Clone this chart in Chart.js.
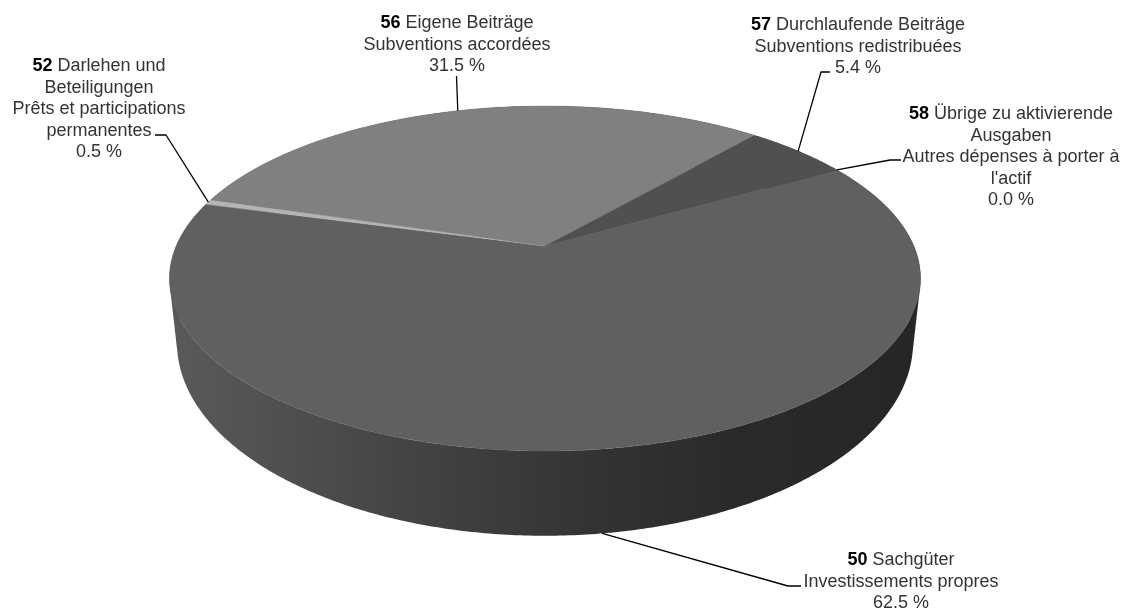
<!DOCTYPE html>
<html>
<head>
<meta charset="utf-8">
<style>
  html, body { margin: 0; padding: 0; background: #fff; }
  canvas { display: block; }
</style>
<script src="https://cdn.jsdelivr.net/npm/chart.js@4/dist/chart.umd.min.js"></script>
</head>
<body>
<canvas id="pieChart" width="1125" height="612"></canvas>
<script>
// Chart values
const codes = ['50', '52', '56', '57', '58'];
const categories = ['Sachgüter', 'Darlehen und Beteiligungen', 'Eigene Beiträge', 'Durchlaufende Beiträge', 'Übrige zu aktivierende Ausgaben'];
const shares = [62.5, 0.5, 31.5, 5.4, 0.0];
const percentLabels = ['62.5 %', '0.5 %', '31.5 %', '5.4 %', '0.0 %'];
// first line goes after the bold code
const labelLines = [
    ['Sachgüter', 'Investissements propres'],
    ['Darlehen und', 'Beteiligungen', 'Prêts et participations', 'permanentes'],
    ['Eigene Beiträge', 'Subventions accordées'],
    ['Durchlaufende Beiträge', 'Subventions redistribuées'],
    ['Übrige zu aktivierende', 'Ausgaben', 'Autres dépenses à porter à', "l'actif"]
];
const sliceColors = ['#606060', '#b4b4b4', '#808080', '#505050', '#707070'];

// Layout of the labels and leader lines, in the same order
const labelX = [901, 99, 457, 858, 1011];
const labelY = [565, 71, 28, 30, 119];
const lineHeight = 21.6;
const elbows = [
    [[788, 586], [801, 586]],
    [[166, 135], [155, 135]],
    [[456.5, 76]],
    [[821, 72], [830, 72]],
    [[890, 160], [901, 160]]
];

// Tilted disc: perspective projection of the unit circle
const top3d = { ax: 545, ay: 246, rx: 368.8, ry: 166.4 };
const bottom3d = { ax: 545, ay: 306.6, rx: 361.4, ry: 186 };
const tilt = 0.1884;

function project(disc, angle) {
    const u = Math.cos(angle), v = Math.sin(angle);
    const w = 1 - tilt * v;
    return [disc.ax + disc.rx * u / w, disc.ay + disc.ry * v / w];
}

function rimPath(ctx, disc, from, to) {
    const steps = Math.max(1, Math.ceil(Math.abs(to - from) / 0.01));
    for (let i = 0; i <= steps; i++) {
        const p = project(disc, from + (to - from) * i / steps);
        ctx.lineTo(p[0], p[1]);
    }
}

function drawLabel(ctx, index) {
    const font = '18px "Liberation Sans", Arial, sans-serif';
    const boldFont = 'bold 18px "Liberation Sans", Arial, sans-serif';
    const lines = labelLines[index].concat(percentLabels[index]);
    ctx.textBaseline = 'alphabetic';
    ctx.textAlign = 'left';
    ctx.fillStyle = '#333';
    lines.forEach(function (line, i) {
        const y = labelY[index] + i * lineHeight;
        ctx.font = font;
        const width = ctx.measureText(line).width;
        if (i === 0) {
            ctx.font = boldFont;
            const code = codes[index] + ' ';
            const codeWidth = ctx.measureText(code).width;
            const x = labelX[index] - (width + codeWidth) / 2;
            ctx.fillStyle = '#000';
            ctx.fillText(code, x, y);
            ctx.font = font;
            ctx.fillStyle = '#333';
            ctx.fillText(line, x + codeWidth, y);
        } else {
            ctx.fillText(line, labelX[index] - width / 2, y);
        }
    });
}

// adds one quad to the path, always wound the same way so overlaps do not cancel
function addQuad(ctx, q) {
    let area = 0;
    for (let i = 0; i < 4; i++) {
        const n = q[(i + 1) % 4];
        area += q[i][0] * n[1] - n[0] * q[i][1];
    }
    const pts = area < 0 ? q.slice().reverse() : q;
    ctx.moveTo(pts[0][0], pts[0][1]);
    for (let i = 1; i < 4; i++) ctx.lineTo(pts[i][0], pts[i][1]);
    ctx.closePath();
}

const tiltedPie = {
    id: 'tiltedPie',
    beforeDatasetDraw(chart) {
        const ctx = chart.ctx;
        const arcs = chart.getDatasetMeta(0).data;
        ctx.save();

        // Side wall first, the top faces cover the back part
        const wall = ctx.createLinearGradient(169, 0, 920, 0);
        wall.addColorStop(0, '#5a5a5a');
        wall.addColorStop(0.3, '#454545');
        wall.addColorStop(0.55, '#343434');
        wall.addColorStop(0.75, '#2a2a2a');
        wall.addColorStop(1, '#262626');
        ctx.fillStyle = wall;
        arcs.forEach(function (arc) {
            // one path for the whole strip, otherwise the quads leave seams
            const step = 0.01;
            ctx.beginPath();
            for (let a = arc.startAngle; a < arc.endAngle; a += step) {
                const b = Math.min(a + step, arc.endAngle);
                addQuad(ctx, [project(top3d, a), project(top3d, b), project(bottom3d, b), project(bottom3d, a)]);
            }
            ctx.fill();
        });

        // Top faces
        arcs.forEach(function (arc, i) {
            if (arc.endAngle - arc.startAngle <= 0) return;
            ctx.beginPath();
            ctx.moveTo(top3d.ax, top3d.ay);
            rimPath(ctx, top3d, arc.startAngle, arc.endAngle);
            ctx.closePath();
            ctx.fillStyle = sliceColors[i];
            ctx.strokeStyle = sliceColors[i];
            ctx.lineWidth = 0.4;
            ctx.fill();
            ctx.stroke();
        });

        // Leader lines start at the middle of each slice
        ctx.strokeStyle = '#000';
        ctx.lineWidth = 1.3;
        ctx.lineJoin = 'round';
        arcs.forEach(function (arc, i) {
            const mid = (arc.startAngle + arc.endAngle) / 2;
            const onFront = Math.sin(mid) > 0.9;
            const start = project(onFront ? bottom3d : top3d, mid);
            ctx.beginPath();
            ctx.moveTo(start[0], start[1]);
            elbows[i].forEach(function (p) { ctx.lineTo(p[0], p[1]); });
            ctx.stroke();
            drawLabel(ctx, i);
        });

        ctx.restore();
        return false;
    }
};

const ctx = document.getElementById('pieChart').getContext('2d');
window.pieChart = new Chart(ctx, {
    type: 'pie',
    data: {
        labels: categories,
        datasets: [{
            data: shares,
            backgroundColor: sliceColors,
            borderWidth: 0
        }]
    },
    options: {
        responsive: false,
        animation: false,
        rotation: 60,
        plugins: {
            legend: { display: false },
            tooltip: { enabled: false }
        }
    },
    plugins: [tiltedPie]
});
</script>
</body>
</html>
